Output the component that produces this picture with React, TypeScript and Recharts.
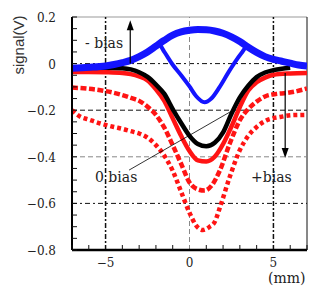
import React from "react";
import {
  LineChart,
  Line,
  XAxis,
  YAxis,
  ReferenceLine,
  ReferenceDot,
} from "recharts";

type Pt = { x: number; y: number };
const pts = (rows: number[][]): Pt[] => rows.map(([x, y]) => ({ x, y }));

// -bias, broad positive bump
const blueUpper = pts([
  [-7, -0.02], [-6, -0.016], [-5, -0.01], [-4.5, -0.004], [-4, 0.004],
  [-3.5, 0.014], [-3, 0.03], [-2.5, 0.05], [-2, 0.075], [-1.5, 0.1],
  [-1, 0.122], [-0.5, 0.136], [0, 0.143], [0.5, 0.146], [1, 0.145],
  [1.5, 0.14], [2, 0.13], [2.5, 0.115], [3, 0.095], [3.5, 0.07],
  [4, 0.048], [4.5, 0.03], [5, 0.018], [5.5, 0.01], [6, 0.002],
  [6.5, -0.006], [7, -0.01],
]);

// -bias, curve with the dip
const blueDip = pts([
  [-2.5, 0.05], [-2.1, 0.07], [-1.85, 0.085], [-1.5, 0.05], [-1, -0.005],
  [-0.5, -0.05], [0, -0.098], [0.4, -0.14], [0.9, -0.166], [1.3, -0.15],
  [1.8, -0.1], [2.3, -0.04], [2.7, 0.005], [3.1, 0.045], [3.4, 0.07],
  [3.6, 0.068],
]);

// 0 bias
const zeroBias = pts([
  [-7, -0.02], [-5, -0.018], [-4, -0.02], [-3.5, -0.025], [-3, -0.037],
  [-2.5, -0.057], [-2, -0.09], [-1.5, -0.13], [-1, -0.195], [-0.5, -0.255],
  [0, -0.31], [0.5, -0.345], [1, -0.355], [1.5, -0.34], [2, -0.295],
  [2.5, -0.215], [3, -0.145], [3.5, -0.095], [4, -0.058], [4.5, -0.038],
  [5, -0.028], [5.5, -0.022], [6, -0.018],
]);

// +bias curves
const red1 = pts([
  [-7, -0.036], [-6, -0.036], [-5, -0.037], [-4, -0.04], [-3.5, -0.045],
  [-3, -0.055], [-2.5, -0.072], [-2, -0.11], [-1.5, -0.16], [-1, -0.235],
  [-0.5, -0.31], [0, -0.375], [0.5, -0.415], [1, -0.42], [1.5, -0.4],
  [2, -0.345], [2.5, -0.27], [3, -0.186], [3.5, -0.115], [4, -0.08],
  [4.5, -0.06], [5, -0.048], [6, -0.042], [7, -0.04],
]);

const red2 = pts([
  [-7, -0.103], [-6, -0.108], [-5, -0.118], [-4, -0.135], [-3.5, -0.147],
  [-3, -0.16], [-2.5, -0.185], [-2, -0.22], [-1.5, -0.275], [-1, -0.35],
  [-0.5, -0.43], [0, -0.51], [0.5, -0.54], [0.9, -0.545], [1.3, -0.525],
  [1.8, -0.46], [2.4, -0.343], [3, -0.243], [3.5, -0.195], [4, -0.163],
  [4.6, -0.138], [5.2, -0.13], [5.8, -0.126], [6.4, -0.118], [7, -0.107],
]);

const red3 = pts([
  [-7, -0.2], [-6.5, -0.228], [-6, -0.24], [-5.3, -0.257], [-4.5, -0.272],
  [-4, -0.28], [-3.5, -0.29], [-3, -0.3], [-2.5, -0.318], [-2, -0.35],
  [-1.5, -0.395], [-1, -0.46], [-0.5, -0.55], [0, -0.64], [0.4, -0.695],
  [0.8, -0.714], [1.2, -0.7], [1.5, -0.68], [1.8, -0.62], [2.4, -0.486],
  [3, -0.371], [3.5, -0.31], [4, -0.272], [4.6, -0.243], [5.4, -0.229],
  [6.2, -0.221], [7, -0.22],
]);

const xMajor = [-5, 0, 5];
const xTicks = [-7, -6, -5, -4, -3, -2, -1, 0, 1, 2, 3, 4, 5, 6, 7];
const yMajor = [0.2, 0, -0.2, -0.4, -0.6, -0.8];
const yTicks = Array.from({ length: 21 }, (_, i) => +(0.2 - i * 0.05).toFixed(2));

const fmt = (v: number) => (v < 0 ? "\u2212" + Math.abs(v) : String(v));
const serif = "DejaVu Serif, Liberation Serif, serif";

const YTick = (props: any) => {
  const { x, y, payload } = props;
  const v = +(+payload.value).toFixed(2);
  const major = yMajor.includes(v);
  return (
    <g>
      <line x1={x} x2={x + 5} y1={y} y2={y} stroke="#111" strokeWidth={1} />
      {major && (
        <text x={x - 16} y={y + 5} textAnchor="end" fontFamily={serif} fontSize={12} fill="#222">
          {fmt(v)}
        </text>
      )}
    </g>
  );
};

const XTick = (props: any) => {
  const { x, y, payload } = props;
  const v = +payload.value;
  const major = xMajor.includes(v);
  return (
    <g>
      <line x1={x} x2={x} y1={y} y2={y - (major ? 0 : 5)} stroke="#111" strokeWidth={1} />
      {major && (
        <text x={x} y={y + 17} textAnchor="middle" fontFamily={serif} fontSize={12} fill="#222">
          {fmt(v)}
        </text>
      )}
    </g>
  );
};

const arrowUp = (p: any) => (
  <polygon points={`${p.cx},${p.cy} ${p.cx - 3.5},${p.cy + 10} ${p.cx + 3.5},${p.cy + 10}`} fill="#000" />
);
const arrowDown = (p: any) => (
  <polygon points={`${p.cx},${p.cy} ${p.cx - 3.5},${p.cy - 10} ${p.cx + 3.5},${p.cy - 10}`} fill="#000" />
);

const note: React.CSSProperties = {
  position: "absolute",
  fontFamily: serif,
  fontSize: 14,
  color: "#222",
  whiteSpace: "nowrap",
  lineHeight: "16px",
};

export default function App() {
  return (
    <div style={{ position: "absolute", left: 0, top: 0, width: 323, height: 286, background: "#fff", overflow: "hidden" }}>
      <LineChart width={323} height={286} margin={{ top: 17, right: 16, bottom: 0, left: 0 }}>
        <XAxis
          dataKey="x"
          type="number"
          domain={[-7, 7]}
          ticks={xTicks}
          interval={0}
          height={36}
          tickSize={0}
          tickMargin={0}
          tickLine={false}
          tick={<XTick />}
          axisLine={{ stroke: "#000", strokeWidth: 2.5 }}
          allowDataOverflow
        />
        <YAxis
          type="number"
          domain={[-0.8, 0.2]}
          ticks={yTicks}
          interval={0}
          width={72}
          tickSize={0}
          tickMargin={0}
          tickLine={false}
          tick={<YTick />}
          axisLine={{ stroke: "#000", strokeWidth: 2 }}
          allowDataOverflow
        />

        <ReferenceLine y={0.2} stroke="#999" strokeWidth={1} />
        <ReferenceLine x={7} stroke="#111" strokeWidth={1} />
        <ReferenceLine y={0} stroke="#111" strokeDasharray="5 3 2 3" />
        <ReferenceLine y={-0.2} stroke="#111" strokeDasharray="5 3" />
        <ReferenceLine y={-0.4} stroke="#888" strokeDasharray="5 3" />
        <ReferenceLine y={-0.6} stroke="#111" strokeDasharray="5 3 2 3" />
        <ReferenceLine x={-5} stroke="#111" strokeWidth={1.5} strokeDasharray="5 2 2 2" />
        <ReferenceLine x={0} stroke="#888" strokeDasharray="5 3" />
        <ReferenceLine x={5} stroke="#111" strokeWidth={1.5} strokeDasharray="5 2 2 2" />

        <Line data={red3} dataKey="y" type="monotone" stroke="#ff1414" strokeWidth={4.5} strokeDasharray="4 3" strokeLinecap="butt" dot={false} isAnimationActive={false} />
        <Line data={red2} dataKey="y" type="monotone" stroke="#ff1414" strokeWidth={4.5} strokeDasharray="6 2.5" strokeLinecap="butt" dot={false} isAnimationActive={false} />
        <Line data={red1} dataKey="y" type="monotone" stroke="#ff1414" strokeWidth={4.5} dot={false} isAnimationActive={false} />
        <Line data={zeroBias} dataKey="y" type="monotone" stroke="#000" strokeWidth={4.5} dot={false} isAnimationActive={false} />
        <Line data={blueDip} dataKey="y" type="monotone" stroke="#1414ff" strokeWidth={4} dot={false} isAnimationActive={false} />
        <Line data={blueUpper} dataKey="y" type="monotone" stroke="#1414ff" strokeWidth={7} dot={false} isAnimationActive={false} />

        <ReferenceLine segment={[{ x: -3.53, y: 0 }, { x: -3.53, y: 0.17 }]} stroke="#000" strokeWidth={1.2} />
        <ReferenceDot x={-3.53} y={0.186} r={0} shape={arrowUp} />
        <ReferenceLine segment={[{ x: 5.7, y: -0.04 }, { x: 5.7, y: -0.39 }]} stroke="#000" strokeWidth={1.2} />
        <ReferenceDot x={5.7} y={-0.405} r={0} shape={arrowDown} />
        <ReferenceLine segment={[{ x: -3.6, y: -0.457 }, { x: 2.6, y: -0.2 }]} stroke="#000" strokeWidth={0.8} />
      </LineChart>

      <div style={{ ...note, left: 85, top: 35 }}>- bias</div>
      <div style={{ ...note, left: 95, top: 169 }}>0 bias</div>
      <div style={{ ...note, left: 251, top: 169 }}>+bias</div>
      <div style={{ ...note, left: 268, top: 271, fontSize: 14, lineHeight: "15px" }}>(mm)</div>
      <div
        style={{
          position: "absolute",
          left: 18,
          top: 45,
          transform: "translate(-50%, -50%) rotate(-90deg)",
          fontFamily: "Liberation Sans, Arial, sans-serif",
          fontSize: 15,
          color: "#333",
          whiteSpace: "nowrap",
        }}
      >
        signal(V)
      </div>
    </div>
  );
}
